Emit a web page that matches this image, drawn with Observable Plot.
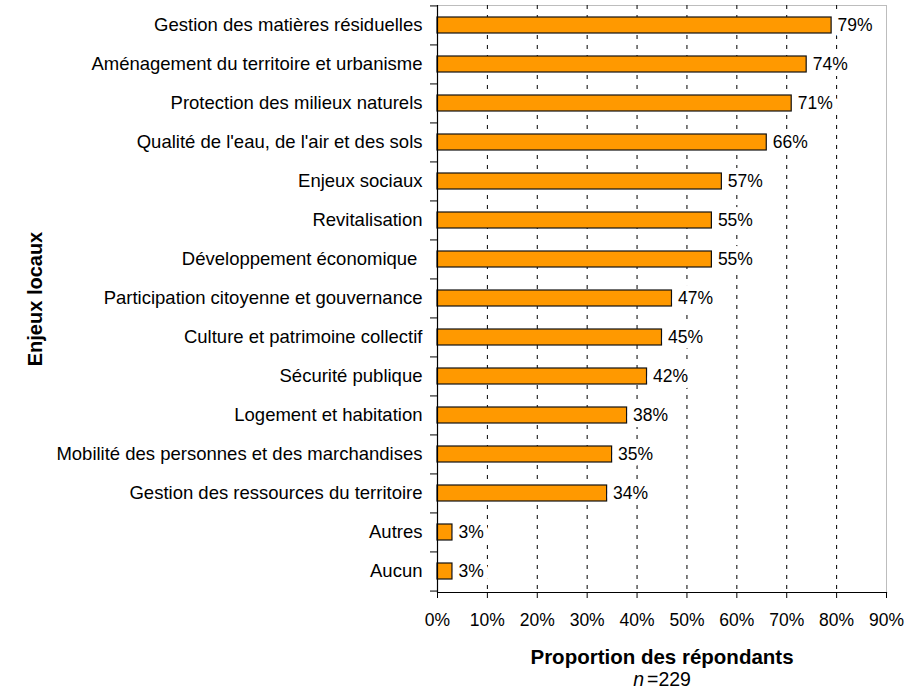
<!DOCTYPE html>
<html><head><meta charset="utf-8">
<script src="https://cdn.jsdelivr.net/npm/d3@7"></script>
<script src="https://cdn.jsdelivr.net/npm/@observablehq/plot@0.6"></script>
<style>body{margin:0;background:#fff} svg{display:block}</style>
</head><body><div id="chart"></div>
<script>
const categories = [
  "Gestion des matières résiduelles",
  "Aménagement du territoire et urbanisme",
  "Protection des milieux naturels",
  "Qualité de l'eau, de l'air et des sols",
  "Enjeux sociaux",
  "Revitalisation",
  "Développement économique ",
  "Participation citoyenne et gouvernance",
  "Culture et patrimoine collectif",
  "Sécurité publique",
  "Logement et habitation",
  "Mobilité des personnes et des marchandises",
  "Gestion des ressources du territoire",
  "Autres",
  "Aucun"
];
const values = [79, 74, 71, 66, 57, 55, 55, 47, 45, 42, 38, 35, 34, 3, 3];
const xTicks = [0, 10, 20, 30, 40, 50, 60, 70, 80, 90];
const gridLines = [10, 20, 30, 40, 50, 60, 70, 80];
const xTitle = "Proportion des répondants";
const yTitle = "Enjeux locaux";
const sampleLabel = "=229";

const data = categories.map((c, i) => ({c, v: values[i]}));
const W = 914, H = 692, mL = 437, mR = 28, mT = 5, mB = 100;
const n = categories.length;
const step = (H - mT - mB) / n;

const plot = Plot.plot({
  width: W, height: H,
  marginLeft: mL, marginRight: mR, marginTop: mT, marginBottom: mB,
  style: {fontFamily: "'Liberation Sans', Arial, sans-serif", fontSize: "17.5px", color: "#000", background: "#fff"},
  x: {domain: [0, 90]},
  y: {domain: categories, paddingInner: 0.58, paddingOuter: 0.29},
  marks: [
    Plot.frame({stroke: "#bdbdbd"}),
    Plot.ruleX(gridLines, {stroke: "#000", strokeDasharray: "4,6"}),
    Plot.barX(data, {x: "v", y: "c", fill: "#FF9900", stroke: "#111", strokeWidth: 1.2}),
    Plot.text(data, {x: "v", y: "c", text: d => d.v + "%", textAnchor: "start", dx: 6, fontSize: 17.5,
      stroke: "#fff", strokeWidth: 12, paintOrder: "stroke", fill: "#000"}),
    Plot.ruleX([0], {stroke: "#000", strokeWidth: 1.2}),
    Plot.frame({anchor: "bottom", stroke: "#000", strokeWidth: 1.2}),
    Plot.axisX(xTicks, {tickFormat: d => d + "%", tickSize: 6, tickPadding: 15, fontSize: 17.5, label: null}),
    Plot.axisY({tickSize: 0, tickPadding: 15, fontSize: 18.5, label: null}),
    Plot.axisY({text: null, tickSize: 7, dy: -step / 2, label: null}),
    Plot.axisY([categories[n - 1]], {text: null, tickSize: 7, dy: step / 2, label: null}),
    Plot.text([xTitle], {frameAnchor: "bottom", dy: 71, fontWeight: "bold", fontSize: 20.5}),
    Plot.text(["n"], {frameAnchor: "bottom", dy: 93, dx: -18, textAnchor: "end", fontStyle: "italic", fontSize: 19.5}),
    Plot.text([sampleLabel], {frameAnchor: "bottom", dy: 93, dx: -15, textAnchor: "start", fontSize: 19.5}),
    Plot.text([yTitle], {frameAnchor: "left", dx: -402, rotate: -90, textAnchor: "middle", fontWeight: "bold", fontSize: 20})
  ]
});
document.getElementById("chart").appendChild(plot);
</script>
</body></html>
